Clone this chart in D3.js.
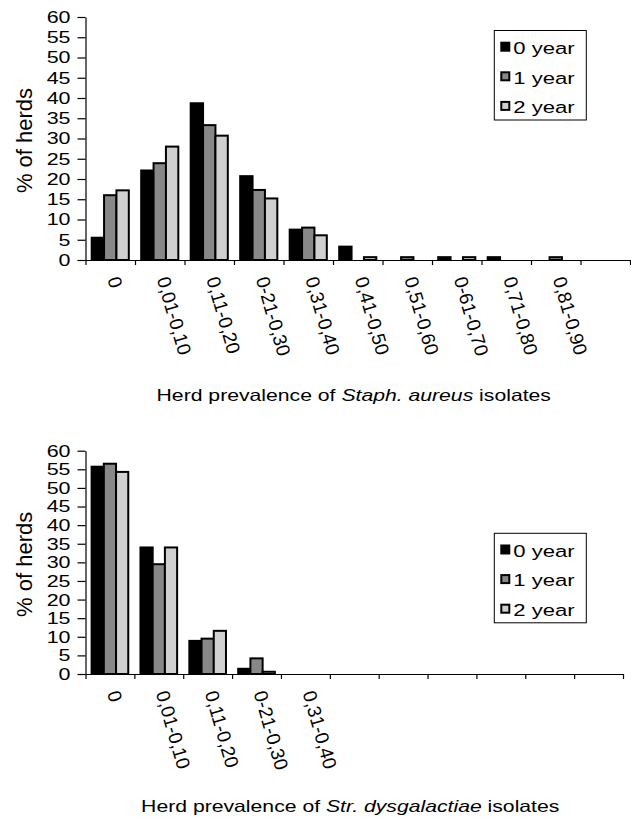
<!DOCTYPE html>
<html><head><meta charset="utf-8">
<script src="https://cdn.jsdelivr.net/npm/d3@7"></script>
<style>
body{margin:0;background:#fff}
svg{display:block;background:#fff}
text{font-family:"Liberation Sans",Arial,Helvetica,sans-serif;fill:#000}
</style>
</head><body>
<svg id="chart" width="631" height="819"></svg>
<script>
// ---------- data ----------
const series = ["0 year", "1 year", "2 year"];
const seriesColors = ["#000000", "#888888", "#d0d0d0"];
const yTicks = [0, 5, 10, 15, 20, 25, 30, 35, 40, 45, 50, 55, 60];

const staphCategories = ["0", "0,01-0,10", "0,11-0,20", "0-21-0,30", "0,31-0,40", "0,41-0,50",
                         "0,51-0,60", "0-61-0,70", "0,71-0,80", "0,81-0,90", ""];
const staphYear0 = [5.5, 22.1, 38.7, 20.7, 7.5, 3.3, 0, 0.7, 0.7, 0, 0];
const staphYear1 = [16.0, 23.9, 33.3, 17.3, 8.0, 0, 0.7, 0, 0, 0.7, 0];
const staphYear2 = [17.2, 28.0, 30.7, 15.2, 6.1, 0.7, 0, 0.7, 0, 0, 0];

const strCategories = ["0", "0,01-0,10", "0,11-0,20", "0-21-0,30", "0,31-0,40", "", "", "", "", "", ""];
const strYear0 = [55.7, 34.0, 8.9, 1.4, 0, 0, 0, 0, 0, 0, 0];
const strYear1 = [56.5, 29.5, 9.5, 4.2, 0, 0, 0, 0, 0, 0, 0];
const strYear2 = [54.3, 34.0, 11.6, 0.6, 0, 0, 0, 0, 0, 0, 0];

const yTitle = "% of herds";
const staphTitle = ["Herd prevalence of ", "Staph. aureus", " isolates"];
const strTitle = ["Herd prevalence of ", "Str. dysgalactiae", " isolates"];

// ---------- layout ----------
const svg = d3.select("#chart");
const SX = 1.3; // horizontal stretch of the horizontal text

function panel(cfg) {
  const n = cfg.categories.length;
  const values = [cfg.y0, cfg.y1, cfg.y2];
  const g = svg.append("g");

  const y = d3.scaleLinear().domain([0, 60]).range([cfg.bottom, cfg.top]);
  const xb = d3.scaleLinear().domain([0, n]).range([cfg.left, cfg.right]);
  const x = d3.scaleBand().domain(d3.range(n)).range([cfg.left, cfg.right])
              .paddingInner(0.25).paddingOuter(0.125);
  const xs = d3.scaleBand().domain(d3.range(series.length)).range([0, x.bandwidth()]);

  // bars
  series.forEach((s, si) => {
    g.append("g").selectAll("rect")
      .data(values[si].map((v, i) => ({v, i})).filter(d => d.v > 0))
      .join("rect")
      .attr("x", d => x(d.i) + xs(si))
      .attr("width", xs.bandwidth())
      .attr("y", d => y(d.v))
      .attr("height", d => y(0) - y(d.v))
      .attr("fill", seriesColors[si])
      .attr("stroke", "#000")
      .attr("stroke-width", 2);
  });

  // y axis
  const ya = g.append("g").attr("transform", `translate(${cfg.left},0)`)
    .call(d3.axisLeft(y).tickValues(yTicks).tickSize(8).tickSizeOuter(0).tickFormat(""));
  ya.selectAll("path,line").attr("stroke", "#000").attr("stroke-width", 1.2);

  g.append("g").selectAll("text").data(yTicks).join("text")
    .attr("transform", d => `translate(${cfg.left - 15},${y(d)}) scale(${SX},1)`)
    .attr("text-anchor", "end")
    .attr("dy", "0.36em")
    .style("font-size", "16.5px")
    .text(d => d);

  // x axis
  const xa = g.append("g").attr("transform", `translate(0,${cfg.bottom})`)
    .call(d3.axisBottom(xb).tickValues(d3.range(n + 1)).tickSize(5).tickSizeOuter(0).tickFormat(""));
  xa.selectAll("path,line").attr("stroke", "#000").attr("stroke-width", 1.2);

  // rotated category labels
  g.append("g").selectAll("text")
    .data(cfg.categories.map((c, i) => ({c, i})).filter(d => d.c !== ""))
    .join("text")
    .attr("transform", d => `translate(${x(d.i) + x.bandwidth() / 2 - 3},${cfg.bottom + 19}) rotate(74)`)
    .attr("text-anchor", "start")
    .style("font-size", "19px")
    .text(d => d.c);

  // y title
  g.append("text")
    .attr("transform", `translate(32,${(cfg.top + cfg.bottom) / 2 + 2}) rotate(-90)`)
    .attr("text-anchor", "middle")
    .style("font-size", "22px")
    .text(yTitle);

  // x title
  const t = g.append("text")
    .attr("transform", `translate(${(cfg.left + cfg.right) / 2 - 4},${cfg.titleY}) scale(${SX},1)`)
    .attr("text-anchor", "middle")
    .style("font-size", "16.3px");
  cfg.title.forEach((part, k) => {
    t.append("tspan").style("font-style", k === 1 ? "italic" : "normal").text(part);
  });

  // legend
  const lg = g.append("g").attr("transform", `translate(${cfg.legendX},${cfg.legendY})`);
  lg.append("rect").attr("width", 92).attr("height", 89.5)
    .attr("fill", "#fff").attr("stroke", "#000").attr("stroke-width", 1);
  series.forEach((s, si) => {
    lg.append("rect")
      .attr("x", 7).attr("y", 12.2 + 29.6 * si)
      .attr("width", 8).attr("height", 8)
      .attr("fill", seriesColors[si]).attr("stroke", "#000").attr("stroke-width", 2);
    lg.append("text")
      .attr("transform", `translate(19,${23.5 + 29.6 * si}) scale(${SX},1)`)
      .style("font-size", "17px")
      .text(s);
  });
}

panel({categories: staphCategories, y0: staphYear0, y1: staphYear1, y2: staphYear2,
       top: 17, bottom: 260, left: 85.5, right: 630, titleY: 401,
       legendX: 494.3, legendY: 30.5, title: staphTitle});
panel({categories: strCategories, y0: strYear0, y1: strYear1, y2: strYear2,
       top: 450.7, bottom: 674, left: 85.5, right: 623, titleY: 812,
       legendX: 494.3, legendY: 533.3, title: strTitle});
</script>
</body></html>
